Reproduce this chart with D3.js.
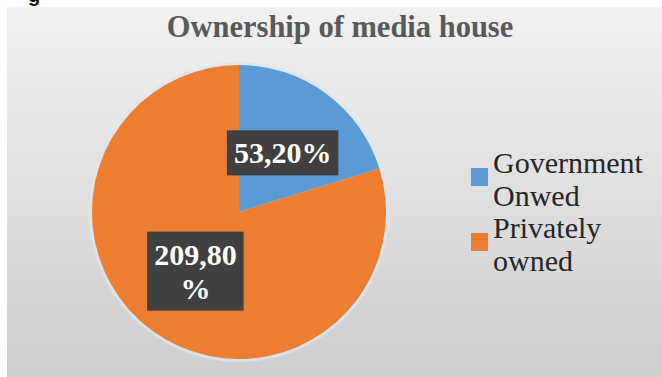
<!DOCTYPE html>
<html>
<head>
<meta charset="utf-8">
<script src="https://cdn.jsdelivr.net/npm/d3@7"></script>
<style>
  html, body { margin: 0; padding: 0; background: #ffffff; }
  svg { display: block; }
  .serif { font-family: "Liberation Serif", "Times New Roman", serif; }
  .sans { font-family: "Liberation Sans", Arial, sans-serif; }
</style>
</head>
<body>
<svg id="chart" width="662" height="377"></svg>
<script>
// Chart data
const title = "Ownership of media house";
const categories = ["Government Onwed", "Privately owned"];
const values = [53.2, 209.8];
const colors = ["#5B9BD5", "#ED7D31"];

const W = 662, H = 377;
const svg = d3.select("#chart");

// Background panel with soft vertical gradient
const defs = svg.append("defs");
const grad = defs.append("linearGradient")
  .attr("id", "panelFill").attr("x1", 0).attr("y1", 0).attr("x2", 0).attr("y2", 1);
grad.append("stop").attr("offset", "0%").attr("stop-color", "#f1f1f1");
grad.append("stop").attr("offset", "100%").attr("stop-color", "#cecece");

svg.append("rect")
  .attr("x", 7).attr("y", 7).attr("width", W - 7).attr("height", H - 7)
  .attr("fill", "url(#panelFill)");

// Heading fragment above the panel
svg.append("text")
  .attr("class", "sans")
  .attr("x", 28).attr("y", 2)
  .attr("font-weight", "bold").attr("font-size", 20)
  .attr("fill", "#111")
  .text("g");

// Title
svg.append("text")
  .attr("class", "serif")
  .attr("x", 340).attr("y", 37)
  .attr("text-anchor", "middle")
  .attr("font-weight", "bold").attr("font-size", 30.5)
  .attr("fill", "#595959")
  .text(title);

// Pie
const cx = 239, cy = 212, R = 147;
const pie = d3.pie().sort(null).value(d => d)(values);
const arc = d3.arc().innerRadius(0).outerRadius(R);
const g = svg.append("g").attr("transform", `translate(${cx},${cy})`);

g.append("circle").attr("r", R + 1.5)
  .attr("fill", "none").attr("stroke", "#dce6ef").attr("stroke-width", 3).attr("opacity", 0.8);

g.selectAll("path.slice").data(pie).join("path")
  .attr("class", "slice")
  .attr("d", arc)
  .attr("fill", (d, i) => colors[i]);

// Data labels in dark boxes
const fmt = v => d3.format(".2f")(v).replace(".", ",") + "%";
const labelFont = 30, labelLH = 34, wrapWidth = 105;
pie.forEach((d, i) => {
  const [lx, ly] = arc.centroid(d);
  const lg = g.append("g");
  const txt = fmt(values[i]);
  const probe = lg.append("text")
    .attr("class", "serif")
    .attr("font-weight", "bold").attr("font-size", labelFont)
    .text(txt);
  let lines = [txt];
  if (probe.node().getComputedTextLength() > wrapWidth) {
    lines = [txt.slice(0, -1), "%"];
  }
  probe.remove();
  const box = lg.append("rect").attr("fill", "#404040");
  const t = lg.append("text")
    .attr("class", "serif")
    .attr("text-anchor", "middle")
    .attr("font-weight", "bold").attr("font-size", labelFont)
    .attr("fill", "#ffffff");
  let maxW = 0;
  lines.forEach((ln, k) => {
    const ts = t.append("tspan")
      .attr("x", lx)
      .attr("y", ly + (k - (lines.length - 1) / 2) * labelLH + 10.5)
      .text(ln);
    maxW = Math.max(maxW, ts.node().getComputedTextLength());
  });
  const bw = maxW + 14, bh = lines.length * labelLH + 11;
  box.attr("x", lx - bw / 2).attr("y", ly - bh / 2).attr("width", bw).attr("height", bh);
});

// Legend
const legendX = 471, legendY = 173, legendLH = 32.5, legendWrap = 160;
const leg = svg.append("g");
let lineIdx = 0;
categories.forEach((c, i) => {
  const t = leg.append("text")
    .attr("class", "serif")
    .attr("font-size", 30).attr("fill", "#262626");
  // word wrap
  const words = c.split(" ");
  const lines = [];
  let cur = "";
  words.forEach(w => {
    const test = cur ? cur + " " + w : w;
    t.text(test);
    if (cur && t.node().getComputedTextLength() > legendWrap) {
      lines.push(cur); cur = w;
    } else cur = test;
  });
  lines.push(cur);
  t.text(null);
  const startLine = lineIdx;
  lines.forEach(ln => {
    t.append("tspan").attr("x", legendX + 22).attr("y", legendY + lineIdx * legendLH).text(ln);
    lineIdx++;
  });
  leg.append("rect")
    .attr("x", legendX).attr("y", legendY + startLine * legendLH - 5)
    .attr("width", 17).attr("height", 18)
    .attr("fill", colors[i]);
});
</script>
</body>
</html>
